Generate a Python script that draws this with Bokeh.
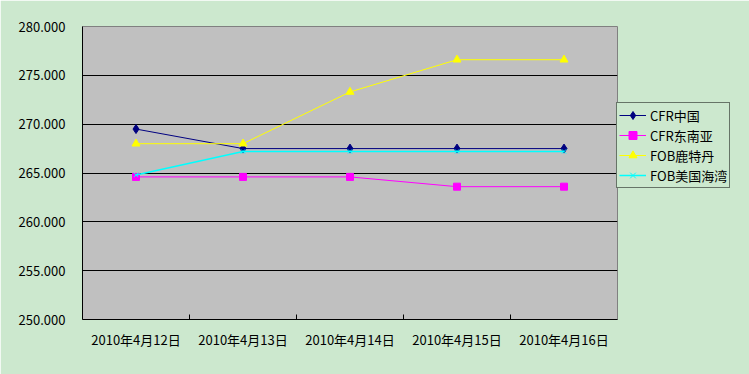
from bokeh.plotting import figure
from bokeh.models import (Range1d, FixedTicker, LinearAxis, NumeralTickFormatter,
                          Legend, LegendItem, ColumnDataSource, Grid)
from bokeh.embed import file_html
from bokeh.resources import INLINE

categories = ["2010年4月12日", "2010年4月13日", "2010年4月14日", "2010年4月15日", "2010年4月16日"]
cfr_china = [269.5, 267.5, 267.5, 267.5, 267.5]
cfr_sea = [264.6, 264.6, 264.6, 263.6, 263.6]
fob_rotterdam = [268.0, 268.0, 273.3, 276.6, 276.6]
fob_usgulf = [264.8, 267.2, 267.2, 267.2, 267.2]
series_names = ["CFR中国", "CFR东南亚", "FOB鹿特丹", "FOB美国海湾"]
y_ticks = [250, 255, 260, 265, 270, 275, 280]

FONT = "Noto Sans CJK SC"
GREEN = "#CCE8CE"

n = len(categories)
xs = list(range(1, n + 1))

p = figure(frame_width=535, frame_height=293, output_backend="svg", toolbar_location=None,
           x_range=Range1d(0.5, n + 0.5), y_range=Range1d(250, 280),
           x_axis_location=None, y_axis_location=None,
           min_border_left=82, min_border_right=0, min_border_top=26, min_border_bottom=55)
p.background_fill_color = "#C0C0C0"
p.border_fill_color = GREEN
p.outline_line_color = "#808080"
p.outline_line_width = 1

# y axis
yax = LinearAxis(ticker=FixedTicker(ticks=y_ticks), formatter=NumeralTickFormatter(format="0.000"))
yax.axis_line_color = "black"
yax.major_tick_out = 0
yax.major_tick_in = 0
yax.minor_tick_out = 0
yax.minor_tick_in = 0
yax.major_label_standoff = 17
yax.major_label_text_font = FONT
yax.major_label_text_font_size = "13px"
yax.major_label_text_color = "black"
p.add_layout(yax, "left")

# x axis
boundaries = [i + 0.5 for i in range(1, n)]
xax = LinearAxis(ticker=FixedTicker(ticks=xs, minor_ticks=boundaries))
xax.major_label_overrides = {x: c for x, c in zip(xs, categories)}
xax.axis_line_color = "black"
xax.major_tick_out = 0
xax.major_tick_in = 0
xax.minor_tick_out = 0
xax.minor_tick_in = 5
xax.minor_tick_line_color = "black"
xax.major_label_standoff = 10
xax.major_label_text_font = FONT
xax.major_label_text_font_size = "13px"
xax.major_label_text_color = "black"
p.add_layout(xax, "below")

p.xgrid.visible = False
p.ygrid.visible = False
grid = Grid(dimension=1, ticker=FixedTicker(ticks=y_ticks[1:-1]),
            grid_line_color="black", grid_line_width=1)
p.add_layout(grid)

src = ColumnDataSource(dict(x=xs, a=cfr_china, b=cfr_sea, c=fob_rotterdam, d=fob_usgulf))

items = []
specs = [
    ("a", "#000080", "diamond", 9, 1),
    ("b", "#FF00FF", "square", 7, 1),
    ("c", "#FFFF00", "triangle", 8, 1),
    ("d", "#00FFFF", "x", 6, 1.5),
]
for name, (col, color, marker, size, lw) in zip(series_names, specs):
    lr = p.line("x", col, source=src, line_color=color, line_width=lw)
    sr = p.scatter("x", col, source=src, marker=marker, size=size,
                   fill_color=color, line_color=color, line_width=1)
    items.append(LegendItem(label=name, renderers=[lr, sr]))

legend = Legend(items=items, location=(-1, 131))
legend.border_line_color = "black"
legend.border_line_width = 1
legend.background_fill_color = GREEN
legend.background_fill_alpha = 1
legend.label_text_font = FONT
legend.label_text_font_size = "13px"
legend.label_text_color = "black"
legend.glyph_width = 27
legend.glyph_height = 20
legend.label_height = 20
legend.spacing = 0
legend.padding = 2
legend.margin = 0
legend.label_standoff = 4
p.add_layout(legend, "right")
p.min_border_right = 132

open("out.html", "w").write(file_html(p, INLINE))
